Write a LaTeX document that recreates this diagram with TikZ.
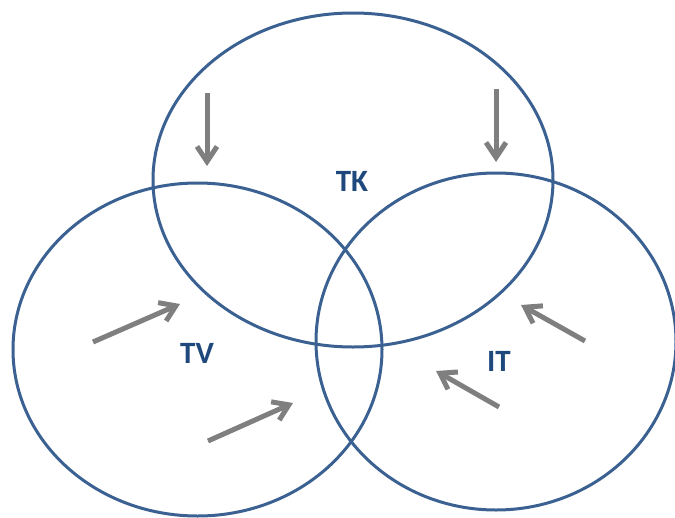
\documentclass[tikz,border=0pt]{standalone}
\usepackage{fontspec}
\setmainfont{Carlito}
\usetikzlibrary{arrows.meta,shapes.geometric}
\definecolor{ringblue}{HTML}{3A6191}
\definecolor{labelblue}{HTML}{1F497D}
\definecolor{arrowgray}{HTML}{7F7F7F}
\tikzset{
  ring/.style={ellipse, draw=ringblue, line width=3pt, inner sep=0pt, fill=none},
  lbl/.style={text=labelblue, font=\bfseries\fontsize{31}{31}\selectfont, inner sep=0pt},
  grayarrow/.style={draw=arrowgray, line width=5pt,
    -{Straight Barb[length=15pt,width=20pt,line join=miter]}}
}
\begin{document}
\begin{tikzpicture}[x=1pt,y=-1pt]
\useasboundingbox (0,0) rectangle (675,517);
% ellipses
\node[ring, minimum width=400pt, minimum height=334pt] (tk) at (353,180) {};
\node[ring, minimum width=369pt, minimum height=333pt] (tv) at (197.5,349.5) {};
\node[ring, minimum width=360pt, minimum height=337pt] (it) at (496,341.5) {};
% labels
\node[lbl] (tklbl) at (352,181) {TK};
\node[lbl] (tvlbl) at (197,353) {TV};
\node[lbl] (itlbl) at (499,361) {IT};
% arrow end points
\coordinate (a1s) at (207,93);  \coordinate (a1e) at (207,166);
\coordinate (a2s) at (496,89);  \coordinate (a2e) at (496,162);
\coordinate (a3s) at (93,342);  \coordinate (a3e) at (180,304);
\coordinate (a4s) at (208,441); \coordinate (a4e) at (293,403);
\coordinate (a5s) at (585,341); \coordinate (a5e) at (521,305);
\coordinate (a6s) at (499,407); \coordinate (a6e) at (436,371);
\draw[grayarrow] (a1s) -- (a1e);
\draw[grayarrow] (a2s) -- (a2e);
\draw[grayarrow] (a3s) -- (a3e);
\draw[grayarrow] (a4s) -- (a4e);
\draw[grayarrow] (a5s) -- (a5e);
\draw[grayarrow] (a6s) -- (a6e);
\end{tikzpicture}
\end{document}
